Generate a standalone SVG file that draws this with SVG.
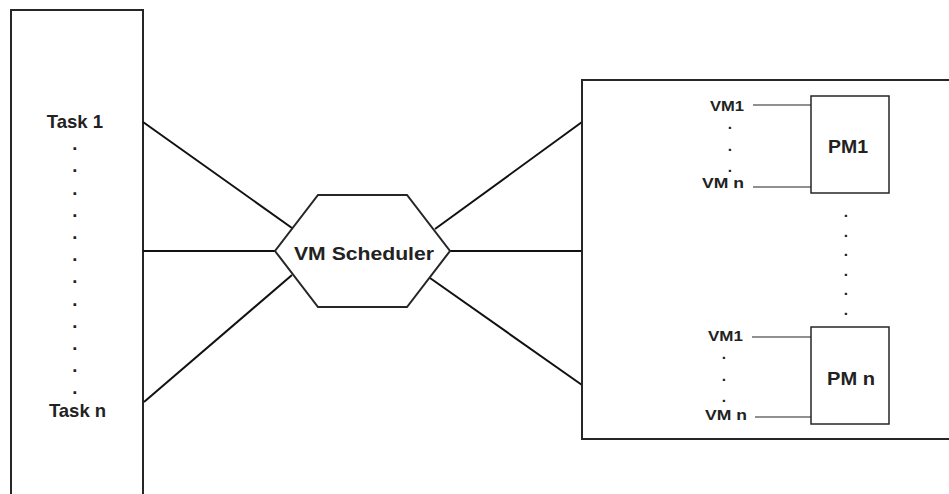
<svg xmlns="http://www.w3.org/2000/svg" width="949" height="494" viewBox="0 0 949 494">
<style>
.box{fill:#fff;stroke:#262626;stroke-width:2}
.pm{fill:#fff;stroke:#262626;stroke-width:1.5}
.ln{stroke:#111;stroke-width:2;fill:none}
.vl{stroke:#222;stroke-width:1.2;fill:none}
text{font-family:"Liberation Sans",Arial,sans-serif;font-weight:bold;fill:#222}
.big{font-size:18.5px}
.sm{font-size:15.5px}
</style>
<rect width="949" height="494" fill="#fff"/>
<g id="tasks">
<rect class="box" x="11" y="10" width="132" height="500"/>
<text class="big" text-anchor="middle">
<tspan x="77.5" y="128">Task 1</tspan>
<tspan x="77.5" dy="22.2">.</tspan>
<tspan x="77.5" dy="22.2">.</tspan>
<tspan x="77.5" dy="22.2">.</tspan>
<tspan x="77.5" dy="22.2">.</tspan>
<tspan x="77.5" dy="22.2">.</tspan>
<tspan x="77.5" dy="22.2">.</tspan>
<tspan x="77.5" dy="22.2">.</tspan>
<tspan x="77.5" dy="22.2">.</tspan>
<tspan x="77.5" dy="22.2">.</tspan>
<tspan x="77.5" dy="22.2">.</tspan>
<tspan x="77.5" dy="22.2">.</tspan>
<tspan x="77.5" dy="22.2">.</tspan>
<tspan x="77.5" dy="22.2">Task n</tspan>
</text>
</g>
<g id="connectors">
<line class="ln" x1="143" y1="122" x2="292" y2="228"/>
<line class="ln" x1="143" y1="251" x2="275" y2="251"/>
<line class="ln" x1="144" y1="402" x2="292" y2="275"/>
<line class="ln" x1="435" y1="229" x2="582" y2="122"/>
<line class="ln" x1="450" y1="251" x2="582" y2="251"/>
<line class="ln" x1="430" y1="278" x2="582" y2="385"/>
</g>
<g id="scheduler">
<polygon class="box" points="318,195 407,195 450,251 407,307 318,307 275,251"/>
<text class="big" x="364" y="259.5" text-anchor="middle" textLength="140" lengthAdjust="spacingAndGlyphs">VM Scheduler</text>
</g>
<g id="pms">
<rect class="box" x="582" y="80" width="380" height="359"/>
<g id="pm1">
<rect class="pm" x="811" y="96" width="78" height="97"/>
<text class="big" x="848" y="153" text-anchor="middle" textLength="40" lengthAdjust="spacingAndGlyphs">PM1</text>
<text class="sm" x="744" y="110.5" text-anchor="end" textLength="34" lengthAdjust="spacingAndGlyphs">VM1</text>
<text class="sm" x="730" y="129" text-anchor="middle">.</text>
<text class="sm" x="730" y="150.5" text-anchor="middle">.</text>
<text class="sm" x="730" y="172" text-anchor="middle">.</text>
<text class="sm" x="744" y="188" text-anchor="end" textLength="42" lengthAdjust="spacingAndGlyphs">VM n</text>
<line class="vl" x1="753" y1="105" x2="811" y2="105"/>
<line class="vl" x1="753" y1="187" x2="811" y2="187"/>
</g>
<g id="pmdots">
<text class="sm" x="846" text-anchor="middle"><tspan x="846" y="217">.</tspan><tspan x="846" y="236.5">.</tspan><tspan x="846" y="256">.</tspan><tspan x="846" y="275.5">.</tspan><tspan x="846" y="295">.</tspan><tspan x="846" y="315">.</tspan></text>
</g>
<g id="pmn">
<rect class="pm" x="811" y="327" width="78" height="97"/>
<text class="big" x="851" y="385" text-anchor="middle" textLength="48" lengthAdjust="spacingAndGlyphs">PM n</text>
<text class="sm" x="743" y="341" text-anchor="end" textLength="35" lengthAdjust="spacingAndGlyphs">VM1</text>
<text class="sm" x="724" y="359" text-anchor="middle">.</text>
<text class="sm" x="724" y="381" text-anchor="middle">.</text>
<text class="sm" x="724" y="402" text-anchor="middle">.</text>
<text class="sm" x="747" y="420" text-anchor="end" textLength="42" lengthAdjust="spacingAndGlyphs">VM n</text>
<line class="vl" x1="752" y1="337" x2="811" y2="337"/>
<line class="vl" x1="755" y1="417" x2="811" y2="417"/>
</g>
</g>
</svg>
